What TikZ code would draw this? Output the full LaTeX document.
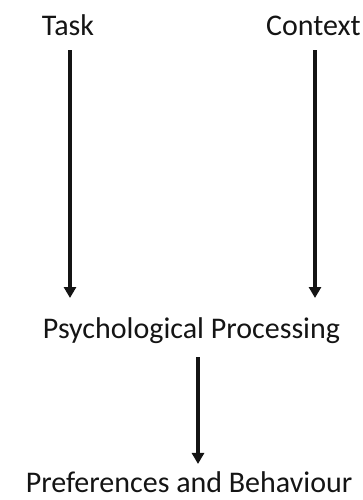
\documentclass[tikz,border=0pt]{standalone}
\usepackage{fontspec}
\setmainfont{Carlito}
\usepackage{tikz}
\usetikzlibrary{positioning, arrows.meta, calc}
\definecolor{labelgray}{RGB}{20,20,20}

\begin{document}
\begin{tikzpicture}[x=1pt, y=-1pt,
  label/.style={anchor=base, inner sep=0pt, font=\fontsize{30}{36}\selectfont,
                text=labelgray},
  flow/.style={-{Triangle[length=11pt, width=12pt]}, line width=3.4pt, labelgray}
]
  \useasboundingbox (0,0) rectangle (363,500);

  %% Labels
  \node[label] (task)  at (68,36)    {Task};
  \node[label] (ctx)   at (313.5,36) {Context};
  \node[label] (psych) at (191.5,338) {Psychological Processing};
  \node[label] (pref)  at (189,492)  {Preferences and Behaviour};
  \coordinate (join) at (0,298);

  %% Arrows into processing
  \draw[flow] ([xshift=2pt, yshift=-14pt]task.south)
      -- ([xshift=2pt]task.south |- join);
  \draw[flow] ([xshift=1.5pt, yshift=-14pt]ctx.south)
      -- ([xshift=1.5pt]ctx.south |- join);

  %% Processing to behaviour
  \draw[flow] ([xshift=6.5pt, yshift=-14pt]psych.south)
      -- ([xshift=9pt, yshift=7pt]pref.north);
\end{tikzpicture}
\end{document}
